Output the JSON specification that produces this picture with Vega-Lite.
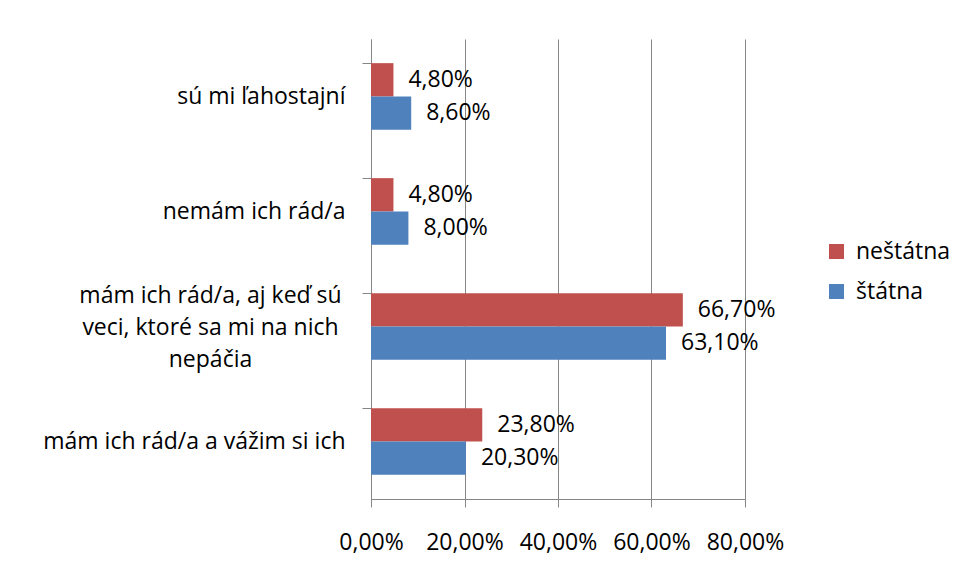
{
  "$schema": "https://vega.github.io/schema/vega-lite/v6.json",
  "width": 374,
  "height": 460,
  "autosize": "none",
  "padding": {"left": 371, "top": 39, "right": 215, "bottom": 78},
  "background": "white",
  "config": {
    "view": {"stroke": null},
    "font": "Open Sans",
    "locale": {"number": {"decimal": ",", "thousands": " ", "grouping": [3], "currency": ["", " €"]}}
  },
  "data": {
    "values": [
      {"kategoria": "sú mi ľahostajní", "skola": "neštátna", "podiel": 0.048},
      {"kategoria": "sú mi ľahostajní", "skola": "štátna", "podiel": 0.086},
      {"kategoria": "nemám ich rád/a", "skola": "neštátna", "podiel": 0.048},
      {"kategoria": "nemám ich rád/a", "skola": "štátna", "podiel": 0.080},
      {"kategoria": "mám ich rád/a, aj keď sú veci, ktoré sa mi na nich nepáčia", "skola": "neštátna", "podiel": 0.667},
      {"kategoria": "mám ich rád/a, aj keď sú veci, ktoré sa mi na nich nepáčia", "skola": "štátna", "podiel": 0.631},
      {"kategoria": "mám ich rád/a a vážim si ich", "skola": "neštátna", "podiel": 0.238},
      {"kategoria": "mám ich rád/a a vážim si ich", "skola": "štátna", "podiel": 0.203}
    ]
  },
  "encoding": {
    "y": {
      "field": "kategoria",
      "type": "nominal",
      "sort": null,
      "scale": {"paddingInner": 0.42, "paddingOuter": 0.21},
      "axis": {
        "title": null,
        "bandPosition": 0,
        "grid": false,
        "domainColor": "#868686",
        "tickColor": "#868686",
        "tickSize": 9,
        "labelFontSize": 23,
        "labelFontWeight": "normal",
        "labelColor": "#000000",
        "labelPadding": {"condition": {"test": "datum.value == 'mám ich rád/a, aj keď sú veci, ktoré sa mi na nich nepáčia'", "value": 152}, "value": 17},
        "labelAlign": {"condition": {"test": "datum.value == 'mám ich rád/a, aj keď sú veci, ktoré sa mi na nich nepáčia'", "value": "center"}, "value": "right"},
        "labelLineHeight": 32,
        "labelLimit": 400,
        "labelOffset": {"condition": {"test": "datum.value == 'mám ich rád/a, aj keď sú veci, ktoré sa mi na nich nepáčia'", "value": -31}, "value": 0},
        "labelExpr": "datum.value == 'mám ich rád/a, aj keď sú veci, ktoré sa mi na nich nepáčia' ? ['mám ich rád/a, aj keď sú', 'veci, ktoré sa mi na nich', 'nepáčia'] : datum.value"
      }
    },
    "yOffset": {
      "field": "skola",
      "type": "nominal",
      "sort": ["neštátna", "štátna"],
      "scale": {"paddingInner": 0, "paddingOuter": 0}
    },
    "x": {
      "field": "podiel",
      "type": "quantitative",
      "scale": {"domain": [0, 0.8], "nice": false},
      "axis": {
        "title": null,
        "format": ".2%",
        "values": [0, 0.2, 0.4, 0.6, 0.8],
        "grid": true,
        "gridColor": "#868686",
        "domainColor": "#868686",
        "tickColor": "#868686",
        "tickSize": 8,
        "labelFontSize": 23,
        "labelFontWeight": "normal",
        "labelColor": "#000000",
        "labelPadding": 24,
        "labelOverlap": false,
        "labelFlush": false
      }
    }
  },
  "layer": [
    {
      "mark": {"type": "bar"},
      "encoding": {
        "color": {
          "field": "skola",
          "type": "nominal",
          "scale": {"domain": ["neštátna", "štátna"], "range": ["#C0504D", "#4F81BD"]},
          "legend": {
            "title": null,
            "orient": "none",
            "legendX": 454,
            "legendY": 201,
            "padding": 0,
            "symbolType": "square",
            "symbolSize": 225,
            "symbolStrokeWidth": 0,
            "labelFontSize": 23,
            "labelFontWeight": "normal",
            "labelColor": "#000000",
            "rowPadding": 16,
            "labelOffset": 8
          }
        }
      }
    },
    {
      "mark": {"type": "text", "align": "left", "baseline": "middle", "dx": 15, "fontSize": 23, "color": "#000000"},
      "encoding": {
        "text": {"field": "podiel", "type": "quantitative", "format": ".2%"}
      }
    }
  ]
}
